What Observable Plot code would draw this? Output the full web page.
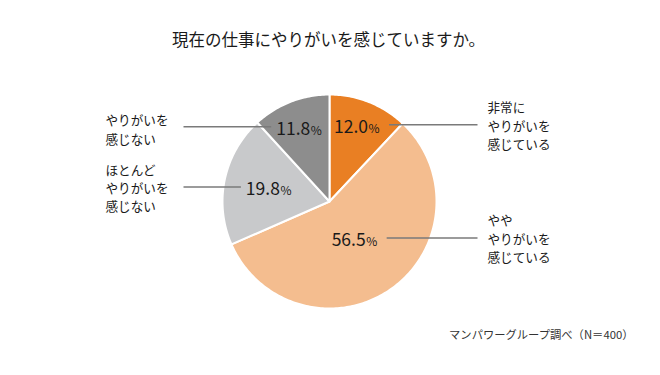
<!DOCTYPE html>
<html><head><meta charset="utf-8">
<script src="https://cdn.jsdelivr.net/npm/d3@7"></script>
<script src="https://cdn.jsdelivr.net/npm/@observablehq/plot@0.6"></script>
<style>
html,body{margin:0;padding:0;background:#fff}
svg{display:block}
</style>
</head><body><div id="chart"></div>
<script>
// ---- data ----
const title = "現在の仕事にやりがいを感じていますか。";
const caption = "マンパワーグループ調べ（N＝400）";
const categories = ["非常にやりがいを感じている", "ややりがいを感じている", "ほとんどやりがいを感じない", "やりがいを感じない"];
const categoryLabels = ["非常に\nやりがいを\n感じている", "やや\nやりがいを\n感じている", "ほとんど\nやりがいを\n感じない", "やりがいを\n感じない"];
const values = [12.0, 56.5, 19.8, 11.8];
const colors = ["#E97F23", "#F4BD8F", "#C8C9CB", "#8D8D8D"];

// ---- layout ----
const W = 660, H = 375;
const cx = 329, cy = 201, R = 107;
const labelRadius = [0.75, 0.44, 0.56, 0.73];
const leftX = 183, rightX = 477, leftTextX = 105, rightTextX = 487;
const font = "'Noto Sans CJK JP', 'Noto Sans', sans-serif";

const arcs = d3.pie().sort(null).value(d => d)(values);
const toXY = (a, r) => [cx + r * Math.sin(a), cy - r * Math.cos(a)];

const slicePts = [];
arcs.forEach((a, i) => {
  slicePts.push({cat: categories[i], x: cx, y: cy});
  const n = Math.max(2, Math.ceil((a.endAngle - a.startAngle) / (Math.PI / 180)));
  for (let k = 0; k <= n; k++) {
    const t = a.startAngle + (a.endAngle - a.startAngle) * k / n;
    const [x, y] = toXY(t, R);
    slicePts.push({cat: categories[i], x, y});
  }
});

const labels = arcs.map((a, i) => {
  const mid = (a.startAngle + a.endAngle) / 2;
  const [x, y] = toXY(mid, R * labelRadius[i]);
  const side = Math.sin(mid) >= 0 ? 1 : -1;
  const lines = categoryLabels[i].split("\n").length;
  return {
    cat: categories[i], value: values[i].toFixed(1), x, y, side,
    lineY: y - 2,
    lx1: side > 0 ? x + 30 : leftX,
    lx2: side > 0 ? rightX : x - 30,
    tx: side > 0 ? rightTextX : leftTextX,
    ty: y - 2 + (lines === 2 ? 2 : 0),
    text: categoryLabels[i]
  };
});

const chart = Plot.plot({
  width: W, height: H,
  margin: 0,
  x: {domain: [0, W], range: [0, W], axis: null},
  y: {domain: [0, H], range: [0, H], axis: null},
  color: {domain: categories, range: colors},
  style: {fontFamily: font, background: "#fff"},
  marks: [
    Plot.line(slicePts, {x: "x", y: "y", z: "cat", fill: "cat", stroke: "#fff", strokeWidth: 2, curve: "linear-closed", strokeLinejoin: "round"}),
    Plot.link(labels, {x1: "lx1", x2: "lx2", y1: "lineY", y2: "lineY", stroke: "#7a7a7a", strokeWidth: 1.5}),
    Plot.text(labels, {x: d => d.x + 9, y: d => d.y + 6, text: "value", textAnchor: "end", lineAnchor: "bottom", fontSize: 17.5, fill: "#1a1a1a"}),
    Plot.text(labels, {x: d => d.x + 9.5, y: d => d.y + 6, text: () => "%", textAnchor: "start", lineAnchor: "bottom", fontSize: 12, fill: "#1a1a1a"}),
    Plot.text(labels, {x: "tx", y: "ty", text: "text", textAnchor: "start", lineAnchor: "middle", fontSize: 12.6, lineHeight: 1.46, fill: "#1a1a1a"}),
    Plot.text([title], {x: () => 328, y: () => 40, text: d => d, fontSize: 16.5, fill: "#1a1a1a"}),
    Plot.text([caption], {x: () => 633, y: () => 335, text: d => d, textAnchor: "end", fontSize: 11.3, fill: "#333"})
  ]
});
document.getElementById("chart").appendChild(chart);
</script>
</body></html>
